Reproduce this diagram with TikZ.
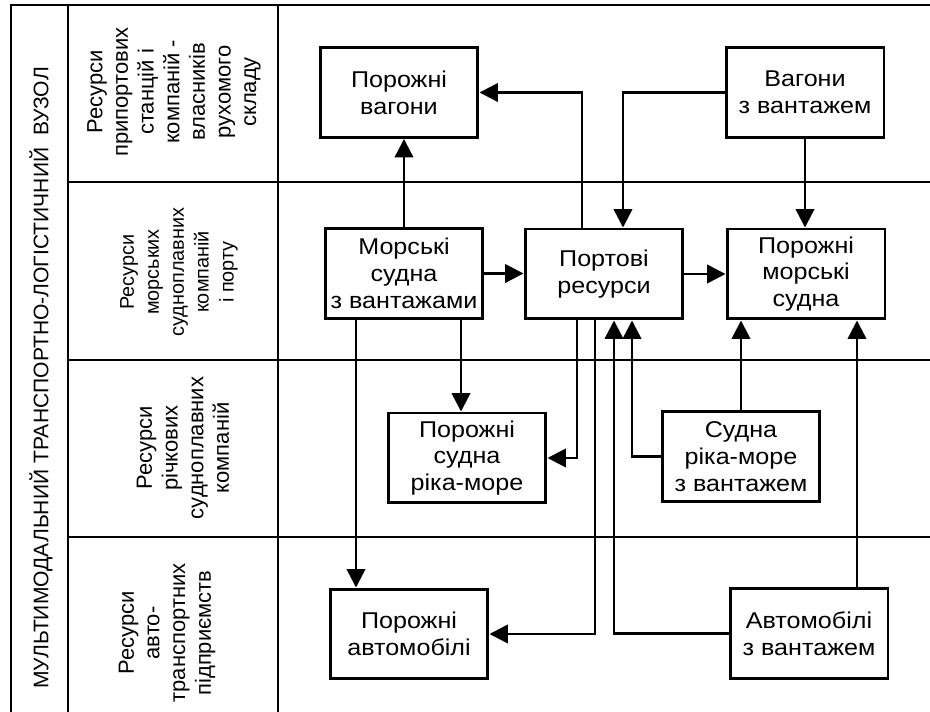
\documentclass[tikz,border=0pt]{standalone}
\usepackage{fontspec}
\setmainfont{Liberation Sans}
\newfontfamily\boxfont{Liberation Sans}[FakeStretch=1.1]
\usetikzlibrary{arrows.meta,calc}

\begin{document}
\begin{tikzpicture}[x=0.02cm,y=-0.02cm,
          box/.style={draw,line width=1.7pt,minimum width=3.16cm,minimum height=1.8cm,inner sep=1pt,align=center,font=\boxfont\fontsize{13}{15.3}\selectfont},
          row/.style={rotate=90,align=center,font=\fontsize{12.5}{14.6}\selectfont},
          arr/.style={line width=1.4pt,-{Triangle[length=10.5pt,width=10.5pt]}},
          frame/.style={line width=1.6pt}]
          \useasboundingbox (0,0) rectangle (930,712);
          \draw[frame] (11,712) -- (11,5) -- (930,5);
          \draw[frame] (68,5) -- (68,712);
          \draw[frame] (278,5) -- (278,712);
          \foreach \y in {182,360,537}
            \draw[frame] (68,\y) -- (930,\y);
          \node[rotate=90,font=\fontsize{12}{14}\selectfont] (t) at (41,378) {МУЛЬТИМОДАЛЬНИЙ ТРАНСПОРТНО-ЛОГІСТИЧНИЙ~~ВУЗОЛ};
          \node[row] (r1) at (174,92) {Ресурси\\припортових\\станцій і\\компаній -\\власників\\рухомого\\складу};
          \node[row,font=\fontsize{11.3}{14.2}\selectfont] (r2) at (179,272) {Ресурси\\морських\\судноплавних\\компаній\\і порту};
          \node[row] (r3) at (183,448) {Ресурси\\річкових\\судноплавних\\компаній};
          \node[row] (r4) at (167,633) {Ресурси\\авто-\\транспортних\\підприємств};
          \node[box] (a) at (399,92.5) {Порожні\\вагони};
          \node[box] (b) at (805,92.5) {Вагони\\з вантажем};
          \node[box] (c) at (404,273.5) {Морські\\судна\\з вантажами};
          \node[box] (d) at (604,274) {Портові\\ресурси};
          \node[box] (e) at (806,274) {Порожні\\морські\\судна};
          \node[box] (f) at (467,458) {Порожні\\судна\\ріка-море};
          \node[box] (g) at (741,456.5) {Судна\\ріка-море\\з вантажем};
          \node[box] (h) at (409,634) {Порожні\\автомобілі};
          \node[box] (i) at (809,633.5) {Автомобілі\\з вантажем};
          \draw[arr] (c.north) -- (c.north |- a.south);
          \draw[arr] ($(d.north)+(-22,0)$) |- (a.east);
          \draw[arr] (b.west) -| ($(d.north)+(19,0)$);
          \draw[arr] (b.south) -- (b.south |- e.north);
          \draw[arr] (c.east) -- (c.east -| d.west);
          \draw[arr] (d.east) -- (d.east -| e.west);
          \draw[arr] ($(c.south)+(-48,0)$) -- ($(c.south |- h.north)+(-48,0)$);
          \draw[arr] ($(c.south)+(57,0)$) -- ($(c.south |- f.north)+(57,0)$);
          \draw[arr] ($(d.south)+(-27,0)$) |- (f.east);
          \draw[arr] ($(d.south)+(-9,0)$) |- (h.east);
          \draw[arr] (i.west) -| ($(d.south)+(10,0)$);
          \draw[arr] (g.west) -| ($(d.south)+(28,0)$);
          \draw[arr] (g.north) -- (g.north |- e.south);
          \draw[arr] ($(i.north)+(48,0)$) -- ($(i.north |- e.south)+(48,0)$);
        \end{tikzpicture}
\end{document}
